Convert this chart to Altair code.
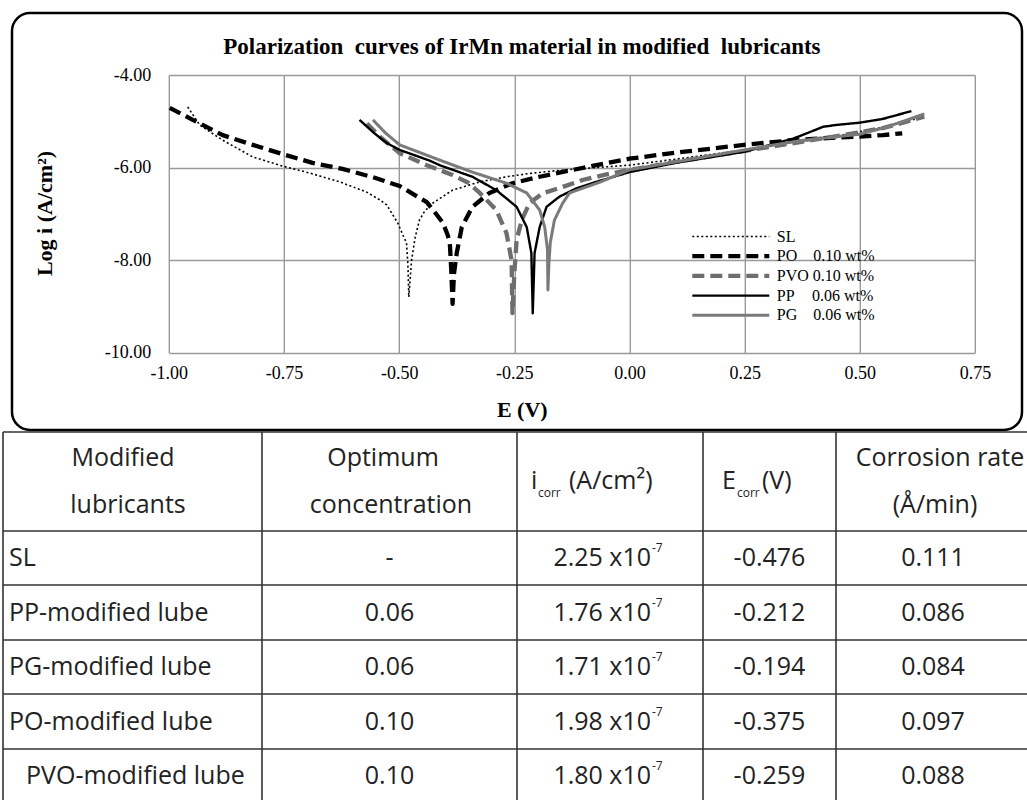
import altair as alt
import pandas as pd

# ---------------- values ----------------
title_text = "Polarization\u00a0 curves of IrMn material in modified\u00a0 lubricants"

series_labels = ["SL", "PO\u20030.10 wt%", "PVO 0.10 wt%", "PP\u2003\u200a0.06 wt%", "PG\u20030.06 wt%"]

sl_E = [-0.959, -0.933, -0.883, -0.818, -0.753, -0.694, -0.629, -0.571, -0.542, -0.527, -0.503,
        -0.490, -0.484, -0.481, -0.479, -0.476, -0.473, -0.465, -0.456, -0.445, -0.427, -0.384,
        -0.325, -0.267, -0.210, -0.150, -0.100, 0.000, 0.100, 0.250, 0.350, 0.450, 0.550, 0.629]
sl_logi = [-4.69, -5.08, -5.41, -5.77, -5.97, -6.12, -6.31, -6.53, -6.70, -6.81, -7.20,
           -7.50, -7.63, -8.10, -8.80, -8.40, -8.00, -7.50, -7.14, -6.95, -6.77, -6.49,
           -6.31, -6.20, -6.12, -6.06, -6.02, -5.95, -5.82, -5.62, -5.46, -5.32, -5.13, -4.93]

po_E = [-0.998, -0.948, -0.883, -0.818, -0.753, -0.688, -0.623, -0.557, -0.499, -0.440, -0.420,
        -0.405, -0.395, -0.390, -0.387, -0.384, -0.381, -0.375, -0.364, -0.341, -0.304, -0.254,
        -0.195, -0.137, -0.072, 0.000, 0.100, 0.249, 0.354, 0.449, 0.500, 0.550, 0.592]
po_logi = [-4.71, -4.97, -5.30, -5.51, -5.71, -5.90, -6.03, -6.21, -6.40, -6.75, -7.00,
           -7.20, -7.45, -7.63, -8.20, -8.95, -8.30, -7.85, -7.29, -6.85, -6.55, -6.34,
           -6.20, -6.08, -5.95, -5.81, -5.68, -5.51, -5.41, -5.35, -5.33, -5.30, -5.26]

pvo_E = [-0.570, -0.540, -0.499, -0.440, -0.384, -0.350, -0.325, -0.289, -0.267, -0.256, -0.254,
         -0.250, -0.245, -0.234, -0.217, -0.189, -0.145, -0.102, -0.050, 0.000, 0.100, 0.250,
         0.370, 0.450, 0.550, 0.640]
pvo_logi = [-5.05, -5.35, -5.69, -5.95, -6.16, -6.33, -6.55, -6.92, -7.42, -8.00, -9.15,
            -8.30, -7.57, -7.14, -6.77, -6.56, -6.42, -6.27, -6.15, -6.05, -5.88, -5.64,
            -5.45, -5.32, -5.15, -4.90]

pp_E = [-0.586, -0.555, -0.527, -0.499, -0.434, -0.412, -0.341, -0.289, -0.245, -0.223, -0.213,
        -0.210, -0.206, -0.195, -0.180, -0.152, -0.115, -0.072, 0.000, 0.100, 0.249, 0.354,
        0.380, 0.420, 0.449, 0.500, 0.550, 0.612]
pp_logi = [-4.97, -5.25, -5.47, -5.62, -5.85, -5.95, -6.20, -6.49, -6.85, -7.29, -7.85,
           -9.15, -7.85, -7.29, -6.85, -6.63, -6.45, -6.31, -6.10, -5.90, -5.66, -5.38,
           -5.28, -5.12, -5.08, -5.03, -4.95, -4.78]

pg_E = [-0.557, -0.530, -0.499, -0.412, -0.341, -0.267, -0.223, -0.195, -0.184, -0.178, -0.177,
        -0.175, -0.172, -0.163, -0.145, -0.130, -0.102, -0.065, 0.000, 0.100, 0.250, 0.370,
        0.500, 0.560, 0.640]
pg_logi = [-4.97, -5.25, -5.51, -5.84, -6.10, -6.34, -6.55, -6.92, -7.29, -7.78, -8.65,
           -8.10, -7.63, -7.14, -6.77, -6.55, -6.45, -6.32, -6.05, -5.88, -5.62, -5.42,
           -5.28, -5.12, -4.84]

x_ticks = [-1.0, -0.75, -0.5, -0.25, 0.0, 0.25, 0.5, 0.75]
y_ticks = [-10, -8, -6, -4]

# table content
lubricants = ["SL", "PP-modified lube", "PG-modified lube", "PO-modified lube", "PVO-modified lube"]
concentration = ["-", "0.06", "0.06", "0.10", "0.10"]
icorr_base = ["2.25 x10", "1.76 x10", "1.71 x10", "1.98 x10", "1.80 x10"]
icorr_exp = ["-7", "-7", "-7", "-7", "-7"]
ecorr = ["-0.476", "-0.212", "-0.194", "-0.375", "-0.259"]
corrosion_rate = ["0.111", "0.086", "0.084", "0.097", "0.088"]

# ---------------- layout / style ----------------
FIG_W, FIG_H = 1027, 800
X0, Y0 = 168.8, 75.0
PW, PH = 806.2, 277.5

colors = ["black", "black", "#6e6e6e", "black", "#7a7a7a"]
dashes = [[2, 2.5], [12, 6], [12, 6], [1, 0], [1, 0]]
widths = [1.6, 4.3, 4.3, 2.4, 3.0]
# legend swatches are drawn a bit heavier than the curves (as in the original)
legend_widths_expr = "[2.2, 5.5, 5.5, 5.5, 5.5][datum.index]"
legend_dash_expr = "[[2.5, 4], [6, 5], [6, 5], [1, 0], [1, 0]][datum.index]"

serif = "Liberation Serif"
sans = "Open Sans"
TFS = 25  # table font size

col_edges = [3, 262, 517, 703, 836]
row_edges = [432, 531, 585, 640, 694, 749, 803]

# ---------------- curves ----------------
rows = []
for lab, Es, Ls in zip(series_labels,
                       [sl_E, po_E, pvo_E, pp_E, pg_E],
                       [sl_logi, po_logi, pvo_logi, pp_logi, pg_logi]):
    for i, (e, v) in enumerate(zip(Es, Ls)):
        rows.append({"series": lab, "E": e, "logi": v, "idx": i})
curve_df = pd.DataFrame(rows)

fix_minus = "replace(format(datum.value, '.2f'), '\u2212', '-')"

encode_variants = [
    {"symbols": {"update": {"strokeWidth": {"signal": legend_widths_expr},
                            "strokeDash": {"signal": legend_dash_expr}}}},
    {"symbols": {"strokeWidth": {"signal": legend_widths_expr},
                 "strokeDash": {"signal": legend_dash_expr}}},
    {"symbols": {"strokeWidth": {"value": {"expr": legend_widths_expr}},
                 "strokeDash": {"value": {"expr": legend_dash_expr}}}},
    None,
]


def make_legend(enc):
    kw = dict(orient="none", legendX=521, legendY=153, title=None, symbolType="stroke",
              symbolSize=5929, labelFont=serif, labelFontSize=16, labelColor="black",
              labelOffset=5, clipHeight=17, rowPadding=2.7, padding=0, labelLimit=400)
    if enc is not None:
        kw["encode"] = enc
    return alt.Legend(**kw)


def build(enc):
    leg = make_legend(enc)
    curves = alt.Chart(curve_df).mark_line(strokeCap="butt", strokeJoin="round").encode(
        x=alt.X("E:Q", scale=alt.Scale(domain=[-1, 0.75], nice=False, zero=False),
                axis=alt.Axis(values=x_ticks, labelExpr=fix_minus, title="E (V)",
                              titleX=353, titleY=57, titleBaseline="middle", titleAlign="center",
                              labelPadding=12, labelFlush=False, labelOverlap=False)),
        y=alt.Y("logi:Q", scale=alt.Scale(domain=[-10, -4], nice=False, zero=False),
                axis=alt.Axis(values=y_ticks, labelExpr=fix_minus, title="Log i (A/cm\u00b2)",
                              titleX=-124, titleY=138, titleBaseline="middle", titleAlign="center",
                              titleAngle=270, labelPadding=18, labelFlush=False, labelOverlap=False)),
        color=alt.Color("series:N", scale=alt.Scale(domain=series_labels, range=colors), legend=leg),
        strokeDash=alt.StrokeDash("series:N", scale=alt.Scale(domain=series_labels, range=dashes),
                                  legend=leg),
        strokeWidth=alt.StrokeWidth("series:N", scale=alt.Scale(type="ordinal", domain=series_labels,
                                                                range=widths), legend=leg),
        order=alt.Order("idx:Q"),
    )

    # rounded frame around the chart part
    frame = alt.Chart(pd.DataFrame({"k": [0]})).mark_rect(
        fillOpacity=0, stroke="black", strokeWidth=2.5, cornerRadius=18
    ).encode(x=alt.value(12 - X0), x2=alt.value(1022 - X0),
             y=alt.value(13 - Y0), y2=alt.value(430 - Y0))

    # ---------------- table ----------------
    tx = alt.Scale(domain=[0, FIG_W], range=[-X0, FIG_W - X0], nice=False, zero=False)
    ty = alt.Scale(domain=[0, FIG_H], range=[-Y0, FIG_H - Y0], nice=False, zero=False)

    lines = []
    for y in row_edges:
        lines.append({"x": col_edges[0], "x2": FIG_W + 5, "y": y, "y2": y})
    for x in col_edges:
        lines.append({"x": x, "x2": x, "y": row_edges[0], "y2": row_edges[-1]})
    lines_df = pd.DataFrame(lines)

    row_mid = [(row_edges[i] + row_edges[i + 1]) / 2 for i in range(1, 6)]
    head_top, head_bot, head_mid = 458, 505, 481
    c_mid = [132, 389.5, 610, 769.5, 933]

    centered = [
        {"x": 123, "y": head_top, "t": "Modified"},
        {"x": 128, "y": head_bot, "t": "lubricants"},
        {"x": 383, "y": head_top, "t": "Optimum"},
        {"x": 391, "y": head_bot, "t": "concentration"},
        {"x": 940, "y": head_top, "t": "Corrosion rate"},
        {"x": 935, "y": head_bot, "t": "(\u00c5/min)"},
    ]
    for i in range(5):
        centered.append({"x": c_mid[1], "y": row_mid[i], "t": concentration[i]})
        centered.append({"x": c_mid[3], "y": row_mid[i], "t": ecorr[i]})
        centered.append({"x": c_mid[4], "y": row_mid[i], "t": corrosion_rate[i]})
    left = [
        {"x": 531, "y": head_mid, "t": "i"},
        {"x": 569, "y": head_mid, "t": "(A/cm\u00b2)"},
        {"x": 722, "y": head_mid, "t": "E"},
        {"x": 762, "y": head_mid, "t": "(V)"},
    ]
    for i in range(5):
        left.append({"x": 26 if lubricants[i].startswith("PVO") else 9, "y": row_mid[i],
                     "t": lubricants[i]})
    right = [{"x": 651, "y": row_mid[i], "t": icorr_base[i]} for i in range(5)]
    small = [
        {"x": 538, "y": head_mid + 12, "t": "corr"},
        {"x": 737, "y": head_mid + 12, "t": "corr"},
    ] + [{"x": 652, "y": row_mid[i] - 10, "t": icorr_exp[i]} for i in range(5)]

    tab_rules = alt.Chart(lines_df).mark_rule(color="#333333", strokeWidth=1.6).encode(
        x=alt.X("x:Q", scale=tx, axis=None), x2="x2:Q",
        y=alt.Y("y:Q", scale=ty, axis=None), y2="y2:Q")

    def text_layer(records, align, size):
        return alt.Chart(pd.DataFrame(records)).mark_text(
            align=align, baseline="middle", font=sans, fontSize=size, color="#222222"
        ).encode(x=alt.X("x:Q", scale=tx, axis=None), y=alt.Y("y:Q", scale=ty, axis=None),
                 text="t:N")

    table = alt.layer(
        tab_rules,
        text_layer(centered, "center", TFS),
        text_layer(left, "left", TFS),
        text_layer(right, "right", TFS),
        text_layer(small, "left", 12),
    )

    return alt.layer(curves, frame, table).resolve_scale(
        x="independent", y="independent"
    ).properties(
        width=PW, height=PH,
        padding={"left": X0, "top": Y0, "right": FIG_W - X0 - PW, "bottom": FIG_H - Y0 - PH},
        autosize=alt.AutoSizeParams(type="none"),
        title=alt.Title(title_text, font=serif, fontSize=23, fontWeight="bold", color="black",
                        anchor="middle", frame="group", dx=-50, offset=0, dy=65,
                        baseline="alphabetic"),
        background="white",
    ).configure_view(stroke=None).configure_axis(
        labelFont=serif, labelFontSize=18, labelColor="black", ticks=False, domain=False,
        grid=True, gridColor="#9a9a9a", gridWidth=1.4,
        titleFont=serif, titleFontSize=22, titleFontWeight="bold", titleColor="black",
    )


chart = None
for enc in encode_variants:
    try:
        cand = build(enc)
        cand.to_dict()
        chart = cand
        break
    except Exception:
        continue

chart.save("out.html", embed_options={"renderer": "svg", "actions": False})
